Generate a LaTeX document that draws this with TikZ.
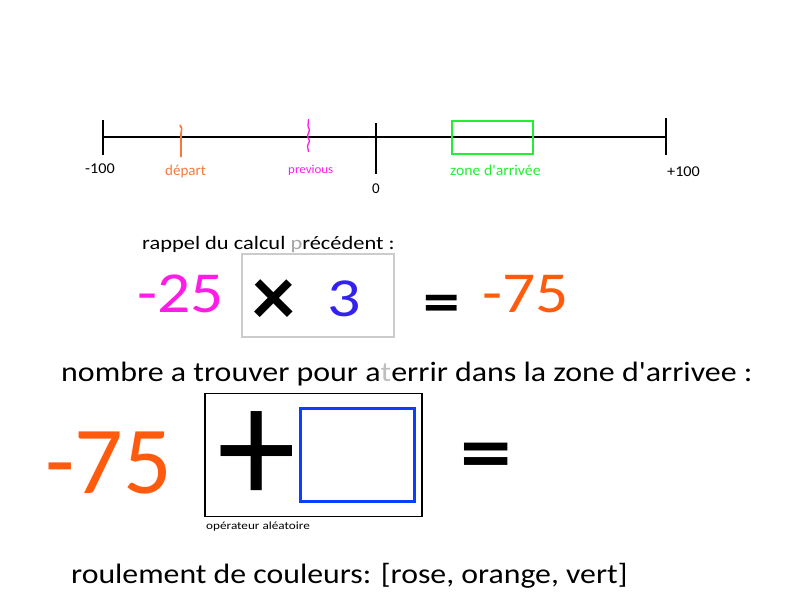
\documentclass[tikz,border=0pt]{standalone}
\usepackage{fontspec}
\setmainfont{Carlito}[Ligatures=TeXOff]
\definecolor{myorange}{HTML}{FF5B0E}
\definecolor{lorange}{HTML}{F6793C}
\definecolor{mymag}{HTML}{FF1CE6}
\definecolor{mygreen}{HTML}{22EE33}
\definecolor{myblue}{HTML}{3322EE}
\definecolor{boxblue}{HTML}{0B3FFF}
\definecolor{lgray}{HTML}{CCCCCC}
\newcommand{\fs}[1]{\fontsize{#1}{#1}\selectfont}
\newcommand{\xs}[2]{\scalebox{#1}[1]{#2}}
\begin{document}
\begin{tikzpicture}[x=1pt,y=-1pt,
  lbl/.style={inner sep=0pt,anchor=base west},
  tick/.style={line width=1.6pt,black}]
\useasboundingbox (0,0) rectangle (800,600);
% number line
\coordinate (L) at (103,137);
\coordinate (R) at (666,137);
\draw[line width=1.4pt] (L) -- (R);
\draw[tick] (103,120) -- (103,155);
\draw[tick] (376,123) -- (376,174);
\draw[tick] (666,118) -- (666,155);
\draw[lorange,line width=1.6pt] (180,125) .. controls (182,128) .. (181,133) -- (181,157);
\draw[mymag,line width=1.3pt] (308.5,119) -- (308,126) -- (309.5,130) -- (307.5,136) -- (309.5,141) -- (307.5,146) -- (308.5,152);
\node[draw=mygreen,line width=1.6pt,minimum width=81pt,minimum height=33pt,inner sep=0pt] (zone) at (492.5,137.5) {};
\node[lbl] (m100) at (85,173) {\fs{15}\xs{1.08}{-100}};
\node[lbl,text=lorange] (dep) at (165,175) {\fs{15}départ};
\node[lbl,text=mymag] (prev) at (288,173) {\fs{12}\xs{1.08}{previous}};
\node[lbl] (zero) at (372,193) {\fs{15}0};
\node[lbl,text=mygreen] (zlab) at (450,175) {\fs{15}\xs{1.05}{zone d'arrivée}};
\node[lbl] (p100) at (667,176) {\fs{15}\xs{1.08}{+100}};
% previous calculation
\node[lbl] (rappel) at (142,249) {\fs{19}\xs{1.18}{rappel du calcul {\color{gray!70}p}récédent :}};
\node[draw=lgray,line width=1.6pt,minimum width=152pt,minimum height=83pt,inner sep=0pt] (gbox) at (318,295.5) {};
\node[lbl,text=mymag] (m25) at (137,312) {\fs{58}\xs{1.13}{-25}};
\node[lbl] (times) at (252,325) {\fs{86}\bfseries ×};
\node[lbl,text=myblue] (three) at (327,316) {\fs{55}\xs{1.2}{3}};
\node[lbl] (eq1) at (423,322) {\fs{61}\bfseries \xs{1.2}{=}};
\node[lbl,text=myorange] (m75a) at (482,312) {\fs{58}\xs{1.13}{-75}};
% to find
\node[lbl] (nombre) at (61,381) {\fs{28}\xs{1.14}{nombre a trouver pour a{\color{gray!50}t}errir dans la zone d'arrivee :}};
\node[draw=black,line width=1.6pt,minimum width=217pt,minimum height=123pt,inner sep=0pt] (opbox) at (313.5,455) {};
\node[draw=boxblue,line width=3pt,minimum width=114pt,minimum height=93pt,inner sep=0pt] (blank) at (357,454.5) {};
\node[lbl,text=myorange] (m75b) at (45,493) {\fs{96}-75};
\node[lbl] (plus) at (217,504) {\fs{158}\scalebox{1}[1.07]{+}};
\node[lbl] (eq2) at (460,481.5) {\fs{86}\bfseries \xs{1.2}{=}};
\node[lbl] (alea) at (206,529) {\fs{11}\xs{1.2}{opérateur aléatoire}};
\node[lbl] (roul) at (71,583) {\fs{28}\xs{1.135}{roulement de couleurs: [rose, orange, vert]}};
\end{tikzpicture}
\end{document}
